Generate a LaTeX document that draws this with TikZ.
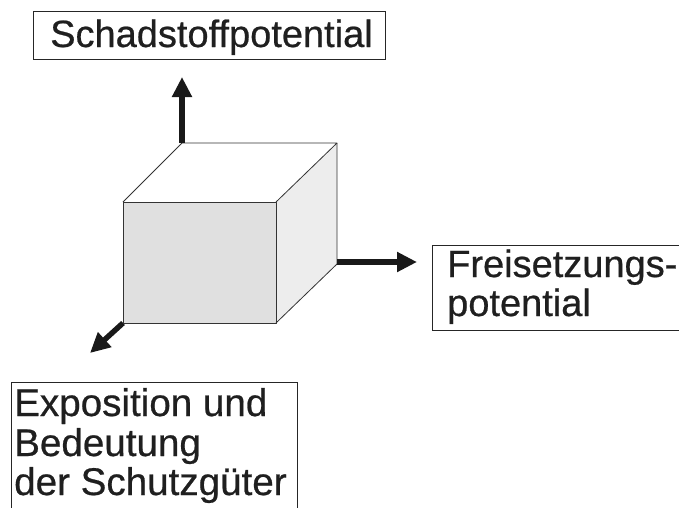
\documentclass[tikz,border=0pt]{standalone}
\usepackage{fontspec}
\setmainfont{Liberation Sans}
\newfontfamily\lblfont[FakeBold=0.6]{Liberation Sans}
\usetikzlibrary{arrows.meta}
\begin{document}
\begin{tikzpicture}[x=1pt,y=-1pt,
  box/.style={draw=black!85, line width=1.2pt, inner sep=0pt, anchor=north west},
  txt/.style={font=\lblfont\fontsize{38}{39.5}\selectfont, text=black!88, inner sep=0pt, anchor=base west},
  axisarrow/.style={line width=5.4pt, draw=black!90, -{Triangle[length=20pt,width=19pt]}},
  cubeedge/.style={draw=black!80, line width=0.8pt, line join=round}]
\useasboundingbox (0,0) rectangle (679,507);
\clip (0,0) rectangle (679,507);

% cube corners
\coordinate (FTL) at (123,202);
\coordinate (FTR) at (276,202);
\coordinate (FBR) at (276,323);
\coordinate (FBL) at (123,323);
\coordinate (BTL) at (182,143);
\coordinate (BTR) at (337,143);
\coordinate (BBR) at (337,264);
\coordinate (RMid) at (337,262);

% arrow tips
\coordinate (upTip) at (182,77);
\coordinate (rightTip) at (417,262);
\coordinate (dlTip) at (90,353);

% cube faces
\fill[black!12] (FTL) -- (FTR) -- (FBR) -- (FBL) -- cycle;
\fill[black!7] (FTR) -- (BTR) -- (BBR) -- (FBR) -- cycle;
\fill[white] (FTL) -- (BTL) -- (BTR) -- (FTR) -- cycle;
\draw[cubeedge] (FTL) -- (FTR) -- (FBR) -- (FBL) -- cycle;
\draw[cubeedge] (FTL) -- (BTL) -- (BTR) -- (FTR);
\draw[cubeedge] (BTR) -- (BBR) -- (FBR);

% axes
\draw[axisarrow] (BTL) -- (upTip);
\draw[axisarrow] (RMid) -- (rightTip);
\draw[axisarrow] (FBL) -- (dlTip);

% boxes
\node[box, minimum width=352pt, minimum height=48pt] (topbox) at (33,11) {};
\node[box, minimum width=262pt, minimum height=85pt] (rightbox) at (432,245) {};
\node[box, minimum width=286pt, minimum height=140pt] (botbox) at (11,382) {};

% texts
\node[txt] (toptext) at (50,47) {Schadstoffpotential};
\node[txt] (rt1) at (447,277) {Freisetzungs-};
\node[txt] (rt2) at (447,316) {potential};
\node[txt, font=\lblfont\fontsize{38.6}{39.5}\selectfont] (bt1) at (14,416) {Exposition und};
\node[txt, font=\lblfont\fontsize{38.6}{39.5}\selectfont] (bt2) at (14,456) {Bedeutung};
\node[txt, font=\lblfont\fontsize{38.6}{39.5}\selectfont] (bt3) at (14,495) {der Schutzgüter};
\end{tikzpicture}
\end{document}
